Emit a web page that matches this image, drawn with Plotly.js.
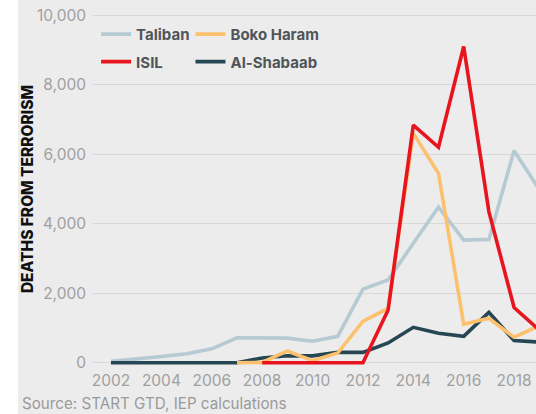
<!DOCTYPE html>
<html>
<head>
<meta charset="utf-8">
<script src="https://cdn.plot.ly/plotly-3.0.1.min.js"></script>
<style>
  html, body { margin: 0; padding: 0; background: #ffffff; }
  #chart { position: absolute; left: 18px; top: 0; width: 518px; height: 414px; }
</style>
</head>
<body>
<div id="chart"></div>
<script>
const years = [2002, 2003, 2004, 2005, 2006, 2007, 2008, 2009, 2010, 2011, 2012, 2013, 2014, 2015, 2016, 2017, 2018, 2019];
const taliban = [40, 100, 180, 260, 400, 720, 720, 710, 620, 760, 2120, 2380, 3440, 4480, 3530, 3550, 6100, 4990];
const isilYears = [2008, 2009, 2010, 2011, 2012, 2013, 2014, 2015, 2016, 2017, 2018, 2019];
const isil = [0, 0, 0, 0, 0, 1520, 6840, 6200, 9100, 4350, 1590, 942];
const bokoYears = [2007, 2008, 2009, 2010, 2011, 2012, 2013, 2014, 2015, 2016, 2017, 2018, 2019];
const bokoHaram = [0, 10, 340, 60, 280, 1190, 1570, 6600, 5450, 1110, 1280, 735, 1068];
const alShabaab = [0, 0, 0, 0, 0, 0, 140, 200, 200, 300, 300, 570, 1020, 850, 760, 1450, 640, 595];
const yTicks = [0, 2000, 4000, 6000, 8000, 10000];
const xTicks = [2002, 2004, 2006, 2008, 2010, 2012, 2014, 2016, 2018];

const FONT = 'Inter, "Noto Sans", sans-serif';
const lw = 3.6;

const traces = [
  {x: years, y: taliban, name: 'Taliban', mode: 'lines', line: {color: '#b6cad4', width: lw}, legend: 'legend'},
  {x: years, y: alShabaab, name: 'Al-Shabaab', mode: 'lines', line: {color: '#264653', width: lw}, legend: 'legend4'},
  {x: bokoYears, y: bokoHaram, name: 'Boko Haram', mode: 'lines', line: {color: '#fdc06c', width: lw}, legend: 'legend2'},
  {x: isilYears, y: isil, name: 'ISIL', mode: 'lines', line: {color: '#e8151f', width: lw}, legend: 'legend3'}
];

function leg(x, y) {
  return {x: x, y: y, xanchor: 'left', yanchor: 'middle', bgcolor: 'rgba(0,0,0,0)',
          font: {family: FONT, size: 15, color: '#50555a', weight: 700}, orientation: 'h'};
}

const layout = {
  width: 518, height: 414,
  margin: {l: 75, r: 0, t: 10, b: 46},
  paper_bgcolor: '#ececec',
  plot_bgcolor: '#ececec',
  font: {family: FONT, color: '#9e9e9e'},
  showlegend: true,
  legend: leg(0.007, 0.932),
  legend2: leg(0.220, 0.932),
  legend3: leg(0.007, 0.855),
  legend4: leg(0.220, 0.855),
  xaxis: {
    range: [2001.285, 2018.87],
    tickvals: xTicks,
    ticktext: xTicks.map(String),
    showgrid: false, zeroline: false, showline: false,
    ticks: '',
    tickfont: {family: FONT, size: 15.5, color: '#a0a0a0'},
    ticklabelstandoff: 1
  },
  yaxis: {
    range: [-150, 10150],
    tickvals: yTicks,
    ticktext: yTicks.map(v => v.toLocaleString('en-US')),
    showgrid: true, gridcolor: '#d8d8d8', gridwidth: 1.3,
    zeroline: false, showline: false,
    ticks: '',
    tickfont: {family: FONT, size: 15.5, color: '#a0a0a0'},
    ticklabelstandoff: 6,
    title: {text: 'DEATHS FROM TERRORISM', font: {family: FONT, size: 15.5, color: '#111111', weight: 800}, standoff: 2}
  },
  annotations: [{
    xref: 'paper', yref: 'paper', x: 0, y: 0, xanchor: 'left', yanchor: 'middle',
    xshift: -73, yshift: -35, showarrow: false,
    text: 'Source: START GTD, IEP calculations',
    font: {family: FONT, size: 15.2, color: '#9a9a9a'}
  }]
};

Plotly.newPlot('chart', traces, layout, {displayModeBar: false, staticPlot: true});
</script>
</body>
</html>
